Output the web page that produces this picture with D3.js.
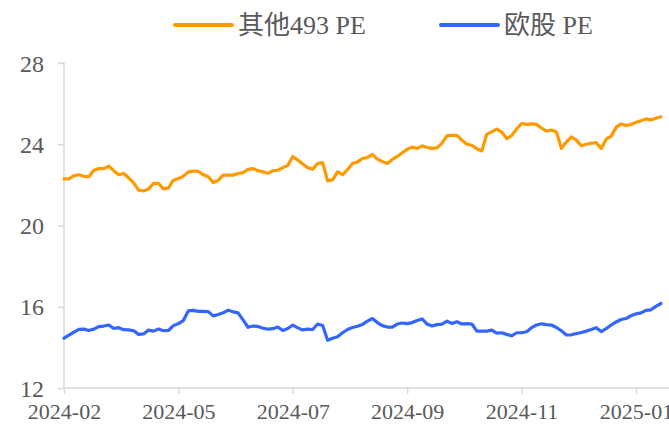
<!DOCTYPE html>
<html><head><meta charset="utf-8">
<script src="https://cdn.jsdelivr.net/npm/d3@7"></script>
<style>
html,body{margin:0;padding:0;background:#fff;}
svg{display:block;}
</style></head>
<body>
<svg id="chart" width="669" height="424"></svg>
<script>
const seriesNames = ["其他493 PE", "欧股 PE"];
const xTickLabels = ["2024-02", "2024-05", "2024-07", "2024-09", "2024-11", "2025-01"];
const xTickStep = 23;
const yTicks = [12, 16, 20, 24, 28];

const other493PE = [
22.3,22.3,22.45,22.5,22.42,22.4,22.72,22.8,22.8,22.92,
22.7,22.5,22.56,22.35,22.1,21.74,21.7,21.8,22.07,22.07,
21.8,21.85,22.23,22.31,22.43,22.64,22.68,22.67,22.5,22.4,
22.12,22.22,22.48,22.48,22.48,22.56,22.6,22.76,22.8,22.7,
22.64,22.57,22.7,22.72,22.85,22.96,23.4,23.22,23.03,22.85,
22.77,23.05,23.1,22.2,22.25,22.64,22.5,22.75,23.05,23.13,
23.3,23.35,23.5,23.27,23.15,23.05,23.25,23.4,23.58,23.75,
23.86,23.8,23.92,23.84,23.8,23.82,24.06,24.42,24.44,24.44,
24.2,24.0,23.95,23.78,23.67,24.5,24.61,24.75,24.6,24.28,
24.43,24.75,25.02,24.98,25.0,24.98,24.8,24.65,24.7,24.6,
23.8,24.1,24.36,24.2,23.93,24.0,24.05,24.08,23.79,24.25,
24.4,24.83,25.0,24.92,24.97,25.08,25.15,25.25,25.2,25.28,
25.35];

const europePE = [
14.45,14.6,14.75,14.89,14.9,14.83,14.9,15.02,15.05,15.1,
14.93,14.97,14.87,14.86,14.82,14.64,14.66,14.85,14.8,14.9,
14.82,14.83,15.07,15.17,15.32,15.8,15.82,15.77,15.77,15.76,
15.55,15.62,15.7,15.83,15.75,15.7,15.35,14.99,15.05,15.03,
14.94,14.9,14.92,15.0,14.83,14.93,15.1,14.96,14.86,14.9,
14.88,15.15,15.08,14.35,14.45,14.52,14.72,14.88,14.98,15.04,
15.13,15.29,15.42,15.22,15.07,15.0,15.0,15.15,15.2,15.17,
15.22,15.32,15.4,15.15,15.05,15.12,15.14,15.29,15.18,15.26,
15.15,15.17,15.15,14.8,14.8,14.8,14.85,14.7,14.72,14.64,
14.57,14.72,14.72,14.77,14.97,15.1,15.16,15.12,15.1,14.98,
14.82,14.61,14.62,14.68,14.73,14.8,14.88,14.97,14.78,14.92,
15.1,15.25,15.37,15.42,15.56,15.65,15.7,15.82,15.85,16.02,
16.16];

const colors = ["#ff9900", "#3366ff"];
const axisColor = "#d9d9d9";
const textColor = "#595959";
const serif = "'Liberation Serif','Times New Roman','Noto Sans CJK SC',serif";

const svg = d3.select("#chart");
const x0 = 64, x1 = 64 + 120 * (114.4 / 23);
const x = d3.scaleLinear().domain([0, europePE.length - 1]).range([x0, x1]);
const y = d3.scaleLinear().domain([12, 28]).range([388, 63]);

// y axis
const yAxis = d3.axisLeft(y).tickValues(yTicks).tickSize(6).tickPadding(14).tickFormat(d3.format("d"));
const gy = svg.append("g").attr("transform", `translate(${x0},0)`).call(yAxis);
gy.select(".domain").attr("stroke", axisColor).attr("stroke-width", 1.5).attr("d", `M-6,${y(28)}H0V${y(12)}`);
gy.selectAll(".tick line").attr("stroke", axisColor).attr("stroke-width", 1.5);
gy.selectAll(".tick text").attr("fill", textColor).style("font-family", serif).style("font-size", "24px").attr("dy", "0.34em");

// x axis
const tickIdx = xTickLabels.map((_, i) => i * xTickStep);
const xAxis = d3.axisBottom(x).tickValues(tickIdx).tickSize(6).tickPadding(9)
  .tickFormat((d, i) => xTickLabels[i]);
const gx = svg.append("g").attr("transform", `translate(0,${y(12)})`).call(xAxis);
gx.select(".domain").attr("stroke", axisColor).attr("stroke-width", 1.5).attr("d", `M${x0},0H669`);
gx.selectAll(".tick line").attr("stroke", axisColor).attr("stroke-width", 1.5);
gx.selectAll(".tick text").attr("fill", textColor).style("font-family", serif).style("font-size", "22px");

// lines
const line = d3.line().x((d, i) => x(i)).y(d => y(d));
[other493PE, europePE].forEach((s, k) => {
  svg.append("path").datum(s).attr("d", line)
    .attr("fill", "none").attr("stroke", colors[k]).attr("stroke-width", 3.2)
    .attr("stroke-linejoin", "round").attr("stroke-linecap", "round");
});

// legend
const legendX = [175, 441];
seriesNames.forEach((name, k) => {
  const g = svg.append("g").attr("transform", `translate(${legendX[k]},25)`);
  g.append("line").attr("x1", 0).attr("x2", 57).attr("y1", 0).attr("y2", 0)
    .attr("stroke", colors[k]).attr("stroke-width", 4).attr("stroke-linecap", "round");
  g.append("text").attr("x", 63).attr("y", 0).attr("dy", "0.35em")
    .attr("fill", textColor).style("font-family", serif).style("font-size", "26px").text(name);
});
</script>
</body></html>
